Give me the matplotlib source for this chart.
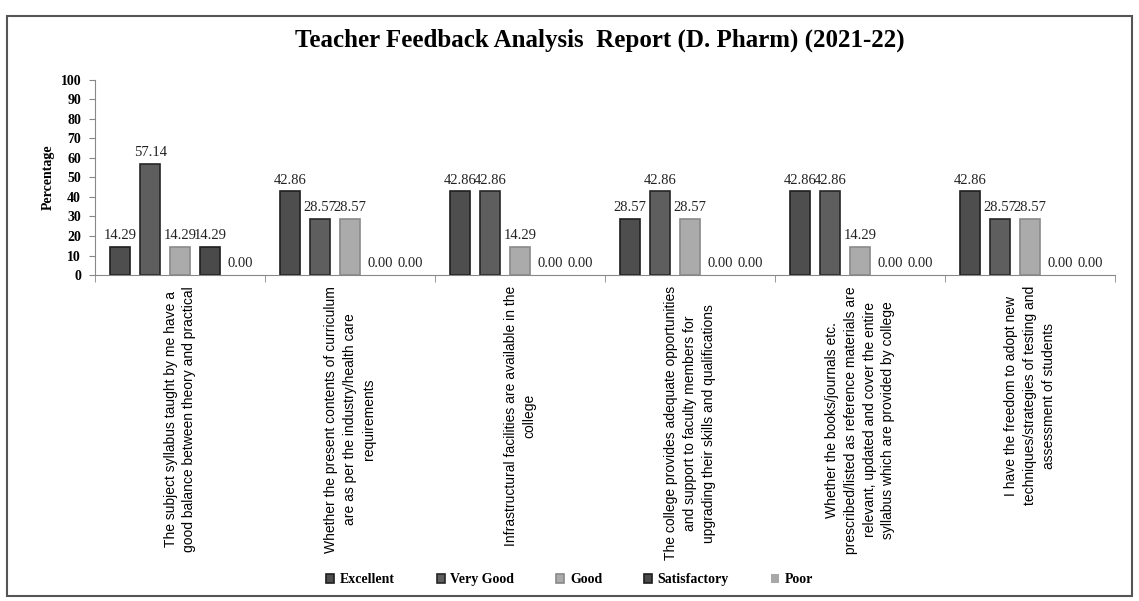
import matplotlib
matplotlib.use("Agg")
import matplotlib.pyplot as plt
import numpy as np
from matplotlib.patches import Rectangle

categories = [
    "The subject syllabus taught by me have a\ngood balance between theory and practical",
    "Whether the present contents of curriculum\nare as per the industry/health care\nrequirements",
    "Infrastructural facilities are available in the\ncollege",
    "The college provides adequate opportunities\nand support to faculty members for\nupgrading their skills and qualifications",
    "Whether the books/journals etc.\nprescribed/listed as reference materials are\nrelevant, updated and cover the entire\nsyllabus which are provided by college",
    "I have the freedom to adopt new\ntechniques/strategies of testing and\nassessment of students",
]
series_names = ["Excellent", "Very Good", "Good", "Satisfactory", "Poor"]
excellent = [14.29, 42.86, 42.86, 28.57, 42.86, 42.86]
very_good = [57.14, 28.57, 42.86, 42.86, 42.86, 28.57]
good = [14.29, 28.57, 14.29, 28.57, 14.29, 28.57]
satisfactory = [14.29, 0.00, 0.00, 0.00, 0.00, 0.00]
poor = [0.00, 0.00, 0.00, 0.00, 0.00, 0.00]
yticks = list(range(0, 101, 10))

series = [excellent, very_good, good, satisfactory, poor]
face = ["#4e4e4e", "#5e5e5e", "#ababab", "#4a4a4a", "#a8a8a8"]
edge = ["#1e1e1e", "#262626", "#8a8a8a", "#1e1e1e", "#888888"]

serif = "Liberation Serif"
fig = plt.figure(figsize=(11.39, 6.01), dpi=100)
fig.patches.append(Rectangle((0.006, 0.008), 0.988, 0.965, transform=fig.transFigure,
                             fill=False, edgecolor="#555555", linewidth=1.5))

ax = fig.add_axes([0.0834, 0.5424, 0.8956, 0.3246])

n = len(categories)
x = np.arange(n)
step = 0.176
width = 0.118
for i, (vals, name) in enumerate(zip(series, series_names)):
    pos = x + (i - 2) * step
    lws = [1.2 if v > 0 else 0 for v in vals]
    ax.bar(pos, vals, width, color=face[i], edgecolor=edge[i], linewidth=lws, label=name)
    for xi, v in zip(pos, vals):
        ax.text(xi, v + 2.5, f"{v:.2f}", ha="center", va="bottom", fontsize=10.5,
                family=serif, color="#222222")

ax.set_xlim(-0.5, n - 0.5)
ax.set_ylim(0, 100)
ax.set_yticks(yticks)
ax.set_yticklabels([str(t) for t in yticks], family=serif, fontsize=10, fontweight="bold")
ax.set_xticks(x)
ax.set_xticklabels(categories, rotation=90, fontsize=10, family="Liberation Sans",
                   ha="center", va="top", linespacing=1.45)
ax.tick_params(axis="x", length=0, pad=8)
ax.set_xticks(np.arange(n + 1) - 0.5, minor=True)
ax.tick_params(axis="x", which="minor", length=5, color="#888888")
ax.tick_params(axis="y", length=4, color="#888888", pad=6)
for s in ["top", "right"]:
    ax.spines[s].set_visible(False)
ax.spines["left"].set_color("#888888")
ax.spines["bottom"].set_color("#888888")
ax.set_ylabel("Percentage", family=serif, fontsize=10, fontweight="bold", labelpad=4)

fig.text(0.527, 0.933, "Teacher Feedback Analysis  Report (D. Pharm) (2021-22)",
         ha="center", va="center", family=serif, fontsize=18, fontweight="bold")

handles, labels = ax.get_legend_handles_labels()
fig.legend(handles, labels, loc="center", bbox_to_anchor=(0.5, 0.035), ncol=5,
           frameon=False, prop={"family": serif, "size": 10, "weight": "bold"},
           handlelength=0.6, handleheight=0.6, handletextpad=0.4, columnspacing=3.0)

fig.savefig("out.png", dpi=100)
